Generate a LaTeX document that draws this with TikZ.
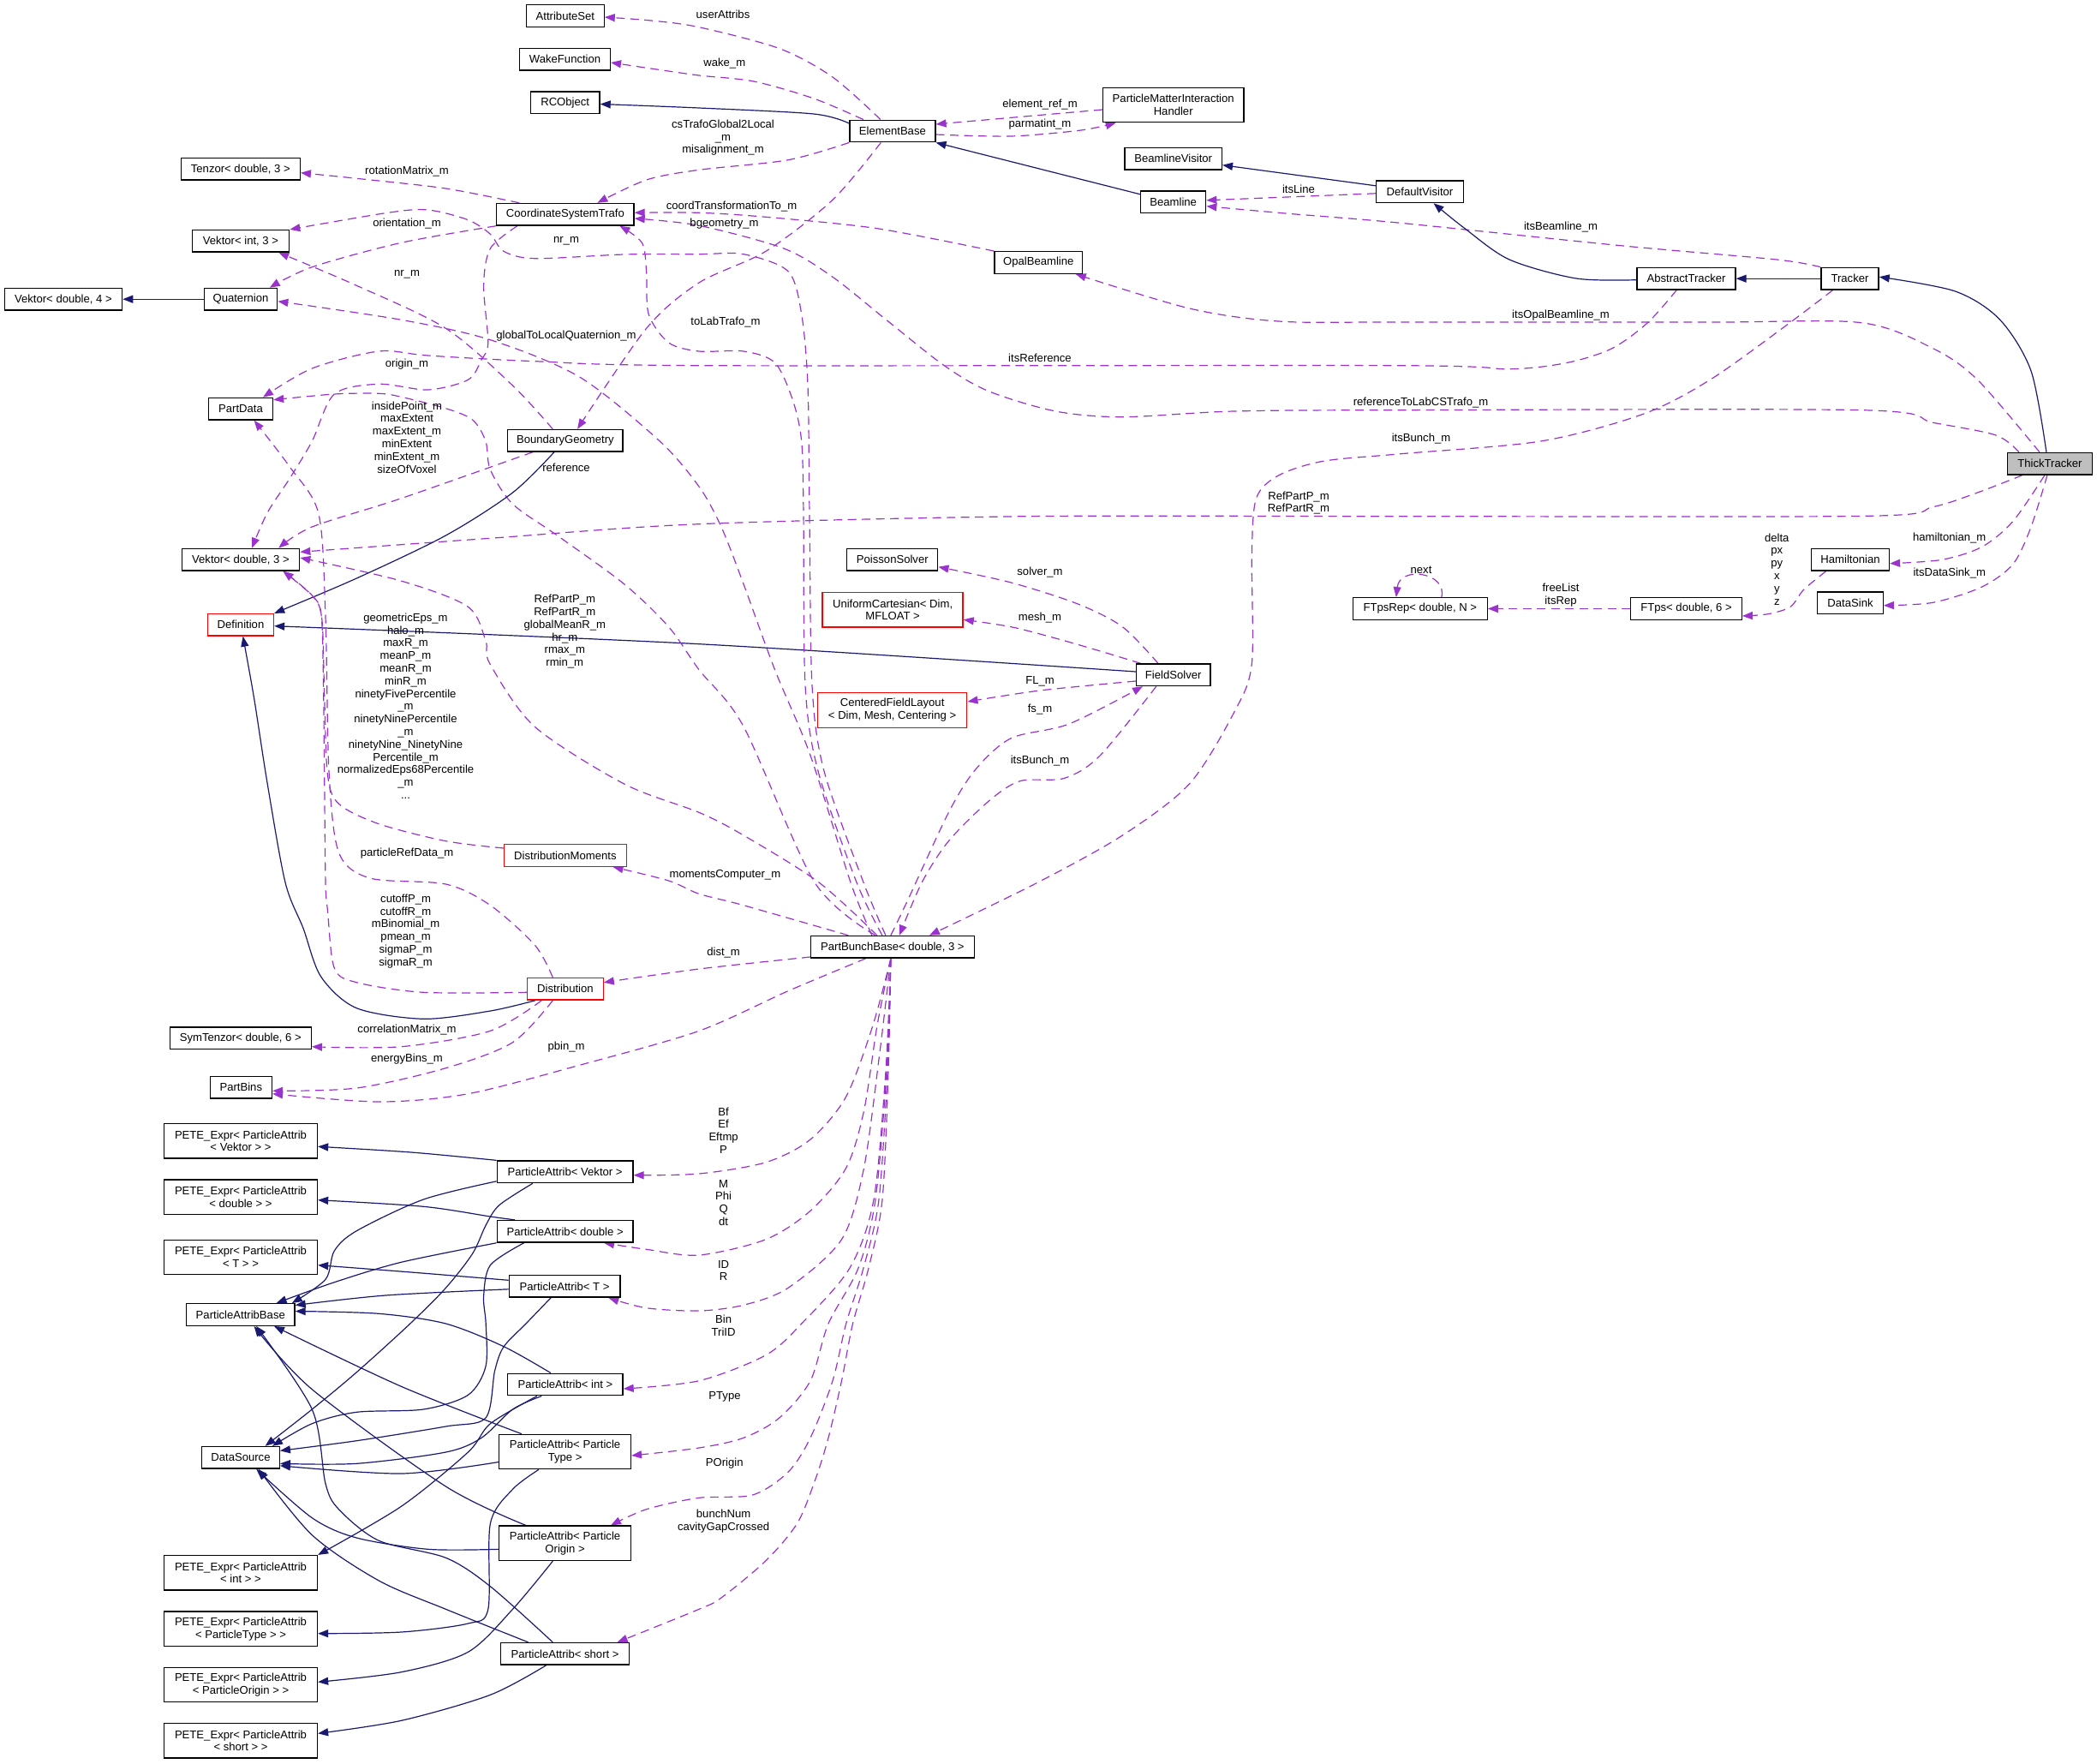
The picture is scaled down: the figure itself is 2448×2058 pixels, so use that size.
\documentclass[tikz,border=0pt]{standalone}
\usepackage{fontspec}
\setmainfont{Liberation Sans}
\usetikzlibrary{arrows.meta}
\pgfdeclarelayer{bg}
\pgfsetlayers{bg,main}
\definecolor{usecol}{HTML}{9A32CD}
\definecolor{inhcol}{HTML}{191970}
\definecolor{redb}{HTML}{FF0000}
\definecolor{grayf}{HTML}{BFBFBF}
\newcommand\lblfont{\fontsize{13.1}{14.8}\selectfont}
\begin{document}
\begin{tikzpicture}[x=1pt,y=-1pt,
  cls/.style={draw=black, line width=1.3pt, fill=white, inner sep=0pt, align=center, font=\lblfont, minimum height=25.6pt},
  cls2/.style={cls, minimum height=40.4pt},
  redcls/.style={draw=redb},
  lab/.style={inner sep=0pt, align=center, font=\lblfont},
  use/.style={draw=usecol, line width=1.2pt, dash pattern=on 10pt off 6.5pt, -{Triangle[length=12pt,width=9pt]}},
  inh/.style={draw=inhcol, line width=1.2pt, -{Triangle[length=12pt,width=9pt]}},
  sm/.style={smooth, tension=0.5}]
\useasboundingbox (0,0) rectangle (2448,2058);

% ---------- classes ----------
\node[cls, minimum width=90.5pt] (attrset) at (659.9,18.5) {AttributeSet};
\node[cls, minimum width=105.6pt] (wake) at (659.6,69.3) {WakeFunction};
\node[cls, minimum width=80.7pt] (rcobj) at (659.7,119.8) {RCObject};
\node[cls, minimum width=100pt] (elembase) at (1041.9,153) {ElementBase};
\node[cls2, minimum width=164.4pt] (pmih) at (1369.7,122.5) {ParticleMatterInteraction\\Handler};
\node[cls, minimum width=113.4pt] (blvisitor) at (1369.7,185.2) {BeamlineVisitor};
\node[cls, minimum width=76pt] (beamline) at (1369.7,235.8) {Beamline};
\node[cls, minimum width=102pt] (defvisitor) at (1657.5,223.8) {DefaultVisitor};
\node[cls, minimum width=102.5pt] (opalbl) at (1212.3,306.5) {OpalBeamline};
\node[cls, minimum width=115pt] (abstracker) at (1968.5,325.2) {AbstractTracker};
\node[cls, minimum width=67.1pt] (tracker) at (2159.5,325.2) {Tracker};
\node[cls, minimum width=98.9pt, fill=grayf] (thick) at (2392.9,541.2) {ThickTracker};
\node[cls, minimum width=139pt] (tenzor) at (280.8,197.2) {Tenzor< double, 3 >};
\node[cls, minimum width=160.3pt] (cst) at (659.9,250.3) {CoordinateSystemTrafo};
\node[cls, minimum width=113.4pt] (vint) at (281,281.3) {Vektor< int, 3 >};
\node[cls, minimum width=137.4pt] (vd4) at (73.9,349.2) {Vektor< double, 4 >};
\node[cls, minimum width=85.4pt] (quat) at (281,349.2) {Quaternion};
\node[cls, minimum width=75pt] (partdata) at (281,477.2) {PartData};
\node[cls, minimum width=134.3pt] (bgeom) at (659.9,514.3) {BoundaryGeometry};
\node[cls, minimum width=137.4pt] (vd3) at (281,653.2) {Vektor< double, 3 >};
\node[cls, redcls, minimum width=77pt] (defn) at (281,729.3) {Definition};
\node[cls, minimum width=106pt] (poisson) at (1041.8,653.3) {PoissonSolver};
\node[cls2, redcls, minimum width=164pt] (unifcart) at (1042.1,711.8) {UniformCartesian< Dim,\\MFLOAT >};
\node[cls, minimum width=86.4pt] (fieldsolver) at (1369.7,787.8) {FieldSolver};
\node[cls2, redcls, minimum width=174.4pt] (cfl) at (1041.6,829) {CenteredFieldLayout\\< Dim, Mesh, Centering >};
\node[cls, minimum width=156.7pt] (ftpsrep) at (1657.8,710.5) {FTpsRep< double, N >};
\node[cls, minimum width=129.5pt] (ftps) at (1968.5,710.5) {FTps< double, 6 >};
\node[cls, minimum width=91pt] (hamil) at (2160,653.3) {Hamiltonian};
\node[cls, minimum width=76.5pt] (datasink) at (2160,703.8) {DataSink};
\node[cls, redcls, minimum width=142.6pt] (dmoments) at (659.9,998.5) {DistributionMoments};
\node[cls, minimum width=190.5pt] (pbb) at (1041.9,1105.2) {PartBunchBase< double, 3 >};
\node[cls, redcls, minimum width=88.5pt] (dist) at (659.9,1154.3) {Distribution};
\node[cls, minimum width=165pt] (symt) at (280.8,1211.8) {SymTenzor< double, 6 >};
\node[cls, minimum width=72.3pt] (partbins) at (281.3,1269.3) {PartBins};
\node[cls2, minimum width=179pt] (peteV) at (281,1331.8) {PETE\_Expr< ParticleAttrib\\< Vektor > >};
\node[cls, minimum width=158.7pt] (paV) at (659.6,1367.8) {ParticleAttrib< Vektor >};
\node[cls2, minimum width=179pt] (peteD) at (281,1397.2) {PETE\_Expr< ParticleAttrib\\< double > >};
\node[cls, minimum width=158.7pt] (paD) at (659.6,1437.3) {ParticleAttrib< double >};
\node[cls2, minimum width=179pt] (peteT) at (281,1467.5) {PETE\_Expr< ParticleAttrib\\< T > >};
\node[cls, minimum width=129.6pt] (paT) at (659.1,1501.3) {ParticleAttrib< T >};
\node[cls, minimum width=126.5pt] (pab) at (280.8,1534.5) {ParticleAttribBase};
\node[cls, minimum width=134.3pt] (paI) at (659.9,1616) {ParticleAttrib< int >};
\node[cls, minimum width=90.6pt] (datasrc) at (281,1701.3) {DataSource};
\node[cls2, minimum width=153.6pt] (paPT) at (659.6,1694.5) {ParticleAttrib< Particle\\Type >};
\node[cls2, minimum width=153.6pt] (paPO) at (659.6,1801.3) {ParticleAttrib< Particle\\Origin >};
\node[cls2, minimum width=179pt] (peteI) at (281,1835.8) {PETE\_Expr< ParticleAttrib\\< int > >};
\node[cls2, minimum width=179pt] (petePT) at (281,1901.2) {PETE\_Expr< ParticleAttrib\\< ParticleType > >};
\node[cls, minimum width=150.4pt] (paS) at (659.6,1930.3) {ParticleAttrib< short >};
\node[cls2, minimum width=179pt] (petePO) at (281,1966.5) {PETE\_Expr< ParticleAttrib\\< ParticleOrigin > >};
\node[cls2, minimum width=179pt] (peteS) at (281,2031.8) {PETE\_Expr< ParticleAttrib\\< short > >};

% ---------- labels ----------
\node[lab] (l1) at (844,16.5) {userAttribs};
\node[lab] (l2) at (845.8,74) {wake\_m};
\node[lab] (l3) at (844,160.8) {csTrafoGlobal2Local\\\_m\\misalignment\_m};
\node[lab] (l4) at (1214,121.7) {element\_ref\_m};
\node[lab] (l5) at (1214,145) {parmatint\_m};
\node[lab] (l6) at (1516,220.7) {itsLine};
\node[lab] (l7) at (1822,265) {itsBeamline\_m};
\node[lab] (l8) at (475,200) {rotationMatrix\_m};
\node[lab] (l9) at (475,260.7) {orientation\_m};
\node[lab] (l10) at (854,240.7) {coordTransformationTo\_m};
\node[lab] (l11) at (845.5,261) {bgeometry\_m};
\node[lab] (l12) at (661,281.7) {nr\_m};
\node[lab] (l13) at (475,320) {nr\_m};
\node[lab] (l14) at (847,375.7) {toLabTrafo\_m};
\node[lab] (l15) at (1822,367.7) {itsOpalBeamline\_m};
\node[lab] (l16) at (661,391.7) {globalToLocalQuaternion\_m};
\node[lab] (l17) at (1214,417.7) {itsReference};
\node[lab] (l18) at (475,425) {origin\_m};
\node[lab] (l19) at (475,510.5) {insidePoint\_m\\maxExtent\\maxExtent\_m\\minExtent\\minExtent\_m\\sizeOfVoxel};
\node[lab] (l20) at (1658.5,470) {referenceToLabCSTrafo\_m};
\node[lab] (l21) at (1659,512) {itsBunch\_m};
\node[lab] (l22) at (661,545.7) {reference};
\node[lab] (l23) at (1516,587) {RefPartP\_m\\RefPartR\_m};
\node[lab] (l24) at (659.3,737.3) {RefPartP\_m\\RefPartR\_m\\globalMeanR\_m\\hr\_m\\rmax\_m\\rmin\_m};
\node[lab] (l25) at (473.5,824.2) {geometricEps\_m\\halo\_m\\maxR\_m\\meanP\_m\\meanR\_m\\minR\_m\\ninetyFivePercentile\\\_m\\ninetyNinePercentile\\\_m\\ninetyNine\_NinetyNine\\Percentile\_m\\normalizedEps68Percentile\\\_m\\...};
\node[lab] (l26) at (2074.3,664.3) {delta\\px\\py\\x\\y\\z};
\node[lab] (l27) at (2275.7,627.7) {hamiltonian\_m};
\node[lab] (l28) at (2275.7,669.3) {itsDataSink\_m};
\node[lab] (l29) at (1659,665) {next};
\node[lab] (l30) at (1822,694.5) {freeList\\itsRep};
\node[lab] (l31) at (1214,668.3) {solver\_m};
\node[lab] (l32) at (1214,720.7) {mesh\_m};
\node[lab] (l33) at (1214,795.7) {FL\_m};
\node[lab] (l34) at (1214,827.7) {fs\_m};
\node[lab] (l35) at (1214,888.3) {itsBunch\_m};
\node[lab] (l36) at (475,996) {particleRefData\_m};
\node[lab] (l37) at (846.4,1021) {momentsComputer\_m};
\node[lab] (l38) at (473.6,1087) {cutoffP\_m\\cutoffR\_m\\mBinomial\_m\\pmean\_m\\sigmaP\_m\\sigmaR\_m};
\node[lab] (l39) at (844.6,1111.7) {dist\_m};
\node[lab] (l40) at (475,1201.7) {correlationMatrix\_m};
\node[lab] (l41) at (661,1222.3) {pbin\_m};
\node[lab] (l42) at (475,1235.7) {energyBins\_m};
\node[lab] (l43) at (844.6,1319.5) {Bf\\Ef\\Eftmp\\P};
\node[lab] (l44) at (844.6,1403.8) {M\\Phi\\Q\\dt};
\node[lab] (l45) at (844.6,1483) {ID\\R};
\node[lab] (l46) at (844.6,1547.5) {Bin\\TriID};
\node[lab] (l47) at (846,1630) {PType};
\node[lab] (l48) at (845.7,1708.3) {POrigin};
\node[lab] (l49) at (844.6,1775.8) {bunchNum\\cavityGapCrossed};

% ---------- connectors ----------
\begin{pgfonlayer}{bg}
\fill[white] (0,0) rectangle (2448,2058);
% top region
\draw[use] plot[sm] coordinates {([xshift=-14pt]elembase.north) (972,90) (910,56.7) (816,31.7) (760,24) ([yshift=-1.5pt]attrset.east)};
\draw[use] plot[sm] coordinates {([xshift=-34pt]elembase.north) (950,115) (880,95) (816,88) (760,80) ([yshift=-3.7pt]wake.east)};
\draw[inh] plot[sm] coordinates {([yshift=9pt]elembase.west) (950,133) (816,126) ([yshift=-1.7pt]rcobj.east)};
\draw[use] ([yshift=-5.5pt]pmih.west) -- ([yshift=8pt]elembase.east);
\draw[use] plot[sm] coordinates {([yshift=-4pt]elembase.east) (1180,159) (1262,152) ([xshift=-67pt]pmih.south)};
\draw[inh] ([yshift=9pt]beamline.west) -- (elembase.south east);
\draw[inh] ([yshift=7pt]defvisitor.west) -- ([yshift=-7.5pt]blvisitor.east);
\draw[use] ([yshift=-2pt]defvisitor.west) -- ([yshift=2pt]beamline.east);
\draw[use] plot[sm] coordinates {(tracker.north west) (2074,303) (1892,286.7) (1632,260) (1500,249) ([yshift=-4.9pt]beamline.east)};
\draw[inh] plot[sm] coordinates {([yshift=-1.5pt]abstracker.west) (1840,325) (1762,303) (1710,266.7) ([xshift=16pt]defvisitor.south)};
\draw[inh] (tracker.west) -- (abstracker.east);
\draw[inh] plot[sm] coordinates {([xshift=-4pt]thick.north) (2371,433) (2334.5,373) (2282.5,340) ([yshift=2pt]tracker.east)};
\draw[use] plot[sm] coordinates {([xshift=-12pt]thick.north) (2308.5,443.3) (2256.5,406.7) (2173,376.7) (2000,376) (1632,376) (1492.5,375) (1388.5,360) ([xshift=43.4pt]opalbl.south)};
\draw[use] plot[sm] coordinates {([xshift=-36pt]thick.north) (2330,508) (2256.5,493.3) (2173,478.7) (1632,478.7) (1440.5,480) (1310.4,486.7) (1232.3,480) (1154.3,456.7) (1102.2,426.7) (1034.6,373.3) (972,323.3) (914.9,290) (816,263.3) ([yshift=-4.7pt]cst.east)};
\draw[use] plot[sm] coordinates {([xshift=-20pt]tracker.south) (2085,380) (1996.3,443.3) (1918.2,483.3) (1798.5,515) (1632,530) (1544.6,538.3) (1492.5,555) (1466.5,581.7) (1461.3,648.3) (1461.3,775) (1440.5,831.7) (1388.4,915) (1310.4,975) (1211.5,1030) ([xshift=43pt]pbb.north)};
\draw[use] plot[sm] coordinates {([xshift=-32pt]thick.south) (2308.5,575) (2256.5,591.7) (2178.4,602.3) (1632,602.7) (1200,602.7) (816,611.7) (572,628.3) ([yshift=8.9pt]vd3.east)};
\draw[use] plot[sm] coordinates {([xshift=-6pt]thick.south) (2350,608.3) (2313.7,638.3) (2267,653.3) ([yshift=-4.4pt]hamil.east)};
\draw[use] plot[sm] coordinates {([xshift=-3pt]thick.south) (2371,615) (2350,658.3) (2313.7,685) (2256.5,703.3) ([yshift=-2.9pt]datasink.east)};
\draw[use] plot[sm] coordinates {([xshift=-28.4pt]hamil.south) (2105.6,688.3) (2090,708.3) (2064,716.7) ([yshift=-8.5pt]ftps.east)};
\draw[use] (ftps.west) -- (ftpsrep.east);
\draw[use] ([xshift=25pt]ftpsrep.north) .. controls (1690,668) and (1634,660) .. ([xshift=-28pt]ftpsrep.north);
% field solver
\draw[use] plot[sm] coordinates {([xshift=-17.7pt]fieldsolver.north) (1310.4,731.7) (1258.3,705) (1180.3,680) ([yshift=-8.4pt]poisson.east)};
\draw[use] plot[sm] coordinates {([xshift=-38pt]fieldsolver.north) (1284.4,760) (1232.3,745) (1180.3,731.7) ([yshift=-11.5pt]unifcart.east)};
\draw[inh] plot[sm] coordinates {([yshift=3.8pt]fieldsolver.west) (816,751.7) ([yshift=-1.4pt]defn.east)};
\draw[use] plot[sm] coordinates {([yshift=-7.2pt]fieldsolver.west) (1214,806) ([yshift=10pt]cfl.east)};
\draw[use] plot[sm] coordinates {([xshift=-2pt]pbb.north) (1060,1050) (1107.4,948.3) (1138.7,898.3) (1180.3,861.7) (1248,845) ([xshift=-35.7pt]fieldsolver.south)};
\draw[use] plot[sm] coordinates {([xshift=-20pt]fieldsolver.south) (1284.4,881.7) (1242.7,908.3) (1190.7,911.7) (1154.3,935) (1107.4,981.7) (1076.2,1030) ([xshift=8pt]pbb.north)};
% PartBunchBase upward
\draw[use] plot[sm] coordinates {([xshift=-51.6pt]pbb.north) (868,1056.7) (816,1043.3) (780.6,1028) ([xshift=55.6pt]dmoments.south)};
\draw[use] plot[sm] coordinates {([yshift=-11.8pt]pbb.west) (816,1131) ([yshift=7.6pt]dist.east)};
\draw[use] plot[sm] coordinates {([xshift=-31pt]pbb.south) (920,1156.7) (816,1203.3) (676.5,1243.3) (546.4,1276.7) (442.3,1286) ([yshift=-7.4pt]partbins.east)};
\draw[use] plot[sm] coordinates {([xshift=-12pt]pbb.north) (1000,1030) (955,900) (940,800) (938,600) (935.7,515) (925.3,466.7) (904.5,423.3) (868,410) (816,410) (780.6,400) (757.2,366.7) (754.6,316.7) (749.4,283.3) ([xshift=63.5pt]cst.south)};
\draw[use] plot[sm] coordinates {([xshift=-8pt]pbb.north) (1008,1030) (962,900) (948,800) (945,600) (943,450) (935.7,366.7) (920,316.7) (868,296.7) (816,296.7) (728.6,297) (624.5,301.7) (588,293.3) (572.4,273.3) (546.4,256.7) (499.6,245) (452.7,248.3) (vint.north east)};
\draw[use] plot[sm] coordinates {([xshift=-24pt]pbb.north) (993,1030) (946,881.7) (904.5,781.7) (868,681.7) (842,615) (816,568) (770.2,515) (676.5,440) (572.4,396.7) (468.4,373.3) ([yshift=-2.5pt]quat.east)};
\draw[use] plot[sm] coordinates {([xshift=-20pt]pbb.north) (951,1030) (868,848) (816,781.7) (780.6,731.7) (728.6,681.7) (650.5,625) (598.5,588.3) (572.4,548.3) (567,515) (551.6,490) (520.4,476.7) (468.4,463.3) (442.3,459.3) (390.3,460) ([yshift=10.5pt]partdata.east)};
\draw[use] plot[sm] coordinates {([xshift=-18pt]pbb.north) (956,1030) (868,975) (816,948.3) (728.6,915) (624,848) (572,775) (567,748) (546,708) (468,678) ([yshift=2.2pt]vd3.east)};
% left column, upper
\draw[use] plot[sm] coordinates {([xshift=-11.3pt]abstracker.south) (1923.4,376.7) (1881.8,406.7) (1829.8,423.3) (1762.1,430.7) (1632,426.7) (816,426.7) (624.5,421.7) (499.6,415) (442.3,410) (364.3,430) ([xshift=26pt]partdata.north)};
\draw[use] plot[sm] coordinates {([xshift=-53.6pt]cst.north) (520.4,220) (416.3,208.3) ([yshift=-4.5pt]tenzor.east)};
\draw[use] plot[sm] coordinates {(cst.south west) (468.4,283.3) (364.3,311.7) ([xshift=33.8pt]quat.north)};
\draw[use] plot[sm] coordinates {([xshift=-56pt]cst.south) (572.4,290) (564.6,333.3) (569.8,400) (562,420) (546.4,443.3) (499.6,455) (442.3,448.3) (390.3,460) (364.3,515) (338.3,558.3) (312.2,598.3) ([xshift=13pt]vd3.north)};
\draw[use] plot[sm] coordinates {(elembase.south west) (920,186.7) (816,198.3) (754.6,210) ([xshift=37.4pt]cst.north)};
\draw[use] plot[sm] coordinates {([xshift=-13.6pt]elembase.south) (972,233.3) (894,293.3) (816,330) (754.6,383.3) ([xshift=14.1pt]bgeom.north)};
\draw[use] plot[sm] coordinates {(opalbl.north west) (1024,266.7) (894,253.3) (816,248.3) ([yshift=2pt]cst.east)};
\draw[use] plot[sm] coordinates {([xshift=-14.6pt]bgeom.north) (598.5,450) (520.4,383.3) (416.3,333.3) ([xshift=44.2pt]vint.south)};
\draw[use] plot[sm] coordinates {([xshift=-38pt]bgeom.south) (468.4,581.7) (364.3,615) ([xshift=44.2pt]vd3.north)};
\draw[inh] plot[sm] coordinates {([xshift=-13pt]bgeom.south) (598.5,575) (520.4,625) (416.3,675) (defn.north east)};
\draw[inh] (quat.west) -- (vd4.east);
% distribution
\draw[use] plot[sm] coordinates {([xshift=-14.6pt]dist.south) (598.5,1216.7) (520.4,1246.7) (416.3,1270) ([yshift=-4pt]partbins.east)};
\draw[use] plot[sm] coordinates {([xshift=-27.6pt]dist.south) (572.4,1203.3) (468.4,1221.7) ([yshift=-9.9pt]symt.east)};
\draw[inh] plot[sm] coordinates {([xshift=-35pt]dist.south) (572.4,1180) (494.4,1189.3) (416.3,1176.7) (374.7,1140) (353.9,1083.3) (333,1030) (312.2,915) (296.6,815) ([xshift=2.6pt]defn.south)};
\draw[use] plot[sm] coordinates {([yshift=-4pt]dist.west) (494.4,1158.3) (416.3,1146.7) (390.3,1130) (382.5,1063.3) (380,1030) (378.8,915) (377.3,781.7) (374.7,715) (364.3,695) ([xshift=49.5pt]vd3.south)};
\draw[use] plot[sm] coordinates {([yshift=8.5pt]dmoments.west) (520.4,981.7) (442.3,961.7) (395.5,938.3) (382.5,905) (378.8,815) (375.7,721.7) (364.3,695) ([xshift=49.5pt]vd3.south)};
\draw[use] plot[sm] coordinates {([xshift=-14.6pt]dist.north) (624.5,1103.3) (572.4,1056.7) (520.4,1032) (432,1025) (395.5,995) (384,900) (380,720) (372,600) (338.3,545) ([xshift=15.6pt]partdata.south)};
% PartBunchBase downward
\draw[use] plot[sm] coordinates {([xshift=-2pt]pbb.south) (1019,1196.7) (987.7,1280) (946,1330) (894,1356.7) (816,1370) ([yshift=-3.9pt]paV.east)};
\draw[use] plot[sm] coordinates {([xshift=-2pt]pbb.south) (1024,1196.7) (1008.5,1296.7) (987.7,1363.3) (946,1413.3) (894,1446.7) (816,1465) (754.6,1458.3) ([xshift=45.4pt]paD.south)};
\draw[use] plot[sm] coordinates {([xshift=-2pt]pbb.south) (1026.8,1230) (1008.5,1363.3) (982.5,1446.7) (920,1503.3) (868,1523.3) (816,1530) (754.6,1526.7) ([xshift=51.2pt]paT.south)};
\draw[use] plot[sm] coordinates {([xshift=-2pt]pbb.south) (1034,1250) (1020,1400) (992,1480) (935.7,1545) (894,1581.7) (816,1611.7) ([yshift=-5pt]paI.east)};
\draw[use] plot[sm] coordinates {([xshift=-2pt]pbb.south) (1035,1250) (1022,1400) (1002,1480) (967,1545) (946,1611.7) (909.7,1655) (868,1678.3) (816,1690) ([yshift=-4.5pt]paPT.east)};
\draw[use] plot[sm] coordinates {([xshift=-2pt]pbb.south) (1036,1250) (1026,1400) (1008,1480) (987.7,1545) (972,1611.7) (946,1678.3) (920,1718.3) (878.4,1745) (816,1748.3) (754.6,1761.7) ([xshift=53.4pt]paPO.north)};
\draw[use] plot[sm] coordinates {([xshift=-2pt]pbb.south) (1037,1250) (1030,1400) (1014,1480) (995.5,1545) (982.5,1611.7) (967,1678.3) (951.3,1728.3) (930.5,1778.3) (894,1821.7) (842,1865) (816,1878.3) ([xshift=61pt]paS.north)};
% ParticleAttrib inheritance
\draw[inh] plot[sm] coordinates {(paV.north west) (480,1345) ([yshift=-6.5pt]peteV.east)};
\draw[inh] plot[sm] coordinates {([yshift=-11pt]paV.west) (494.4,1400) (416.3,1436.7) (390.3,1460) (380,1493.3) ([xshift=60pt]pab.north)};
\draw[inh] plot[sm] coordinates {([xshift=-37.7pt]paV.south) (582.8,1406.7) (567.2,1430) (551.6,1463.3) (520.4,1503.3) (478.8,1545) (416.3,1601.7) (364.3,1645) ([xshift=28.6pt]datasrc.north)};
\draw[inh] plot[sm] coordinates {([xshift=-58.6pt]paD.north) (572.4,1420) (494.4,1408.3) ([yshift=-3.5pt]peteD.east)};
\draw[inh] plot[sm] coordinates {(paD.south west) (468.4,1473.3) (390.3,1496.7) ([xshift=41.8pt]pab.north)};
\draw[inh] plot[sm] coordinates {([xshift=-48pt]paD.south) (572.4,1476.7) (564.6,1513.3) (567.2,1545) (567,1595) (546.4,1628.3) (494.4,1645) (416.3,1648.3) (364.3,1661.7) ([xshift=37pt]datasrc.north)};
\draw[inh] plot[sm] coordinates {([yshift=7pt]paT.west) (480,1485) ([yshift=-9.2pt]peteT.east)};
\draw[inh] plot[sm] coordinates {([yshift=-3.5pt]paT.west) (450,1512) ([yshift=11pt]pab.east)};
\draw[inh] plot[sm] coordinates {([xshift=-16pt]paT.south) (614,1545) (588,1572) (577.6,1600) (567,1655) (520.4,1665) (416.3,1681.7) ([yshift=8pt]datasrc.east)};
\draw[inh] plot[sm] coordinates {([xshift=-17pt]paI.north) (588,1571.7) (520.4,1545) (442.3,1533.3) ([yshift=4pt]pab.east)};
\draw[inh] plot[sm] coordinates {([xshift=-27.6pt]paI.south) (598.5,1645) (562,1678.3) (520.4,1695) (416.3,1708.3) ([yshift=-7pt]datasrc.east)};
\draw[inh] plot[sm] coordinates {([xshift=-33pt]paI.south) (572.4,1661.7) (546.4,1695) (468.4,1758.3) (peteI.north east)};
\draw[inh] plot[sm] coordinates {([xshift=-50.7pt]paPT.north) (468.4,1618.3) ([xshift=39.2pt]pab.south)};
\draw[inh] plot[sm] coordinates {([yshift=-12pt]paPT.west) (468.4,1720) ([yshift=-9.5pt]datasrc.east)};
\draw[inh] plot[sm] coordinates {([xshift=-30.7pt]paPT.south) (598.5,1738.3) (572.4,1778.3) (569.8,1878.3) (546.4,1895) (468.4,1905) ([yshift=-5.5pt]petePT.east)};
\draw[inh] plot[sm] coordinates {([xshift=-45.6pt]paPO.north) (520.4,1735) (364.3,1621.7) ([xshift=15.8pt]pab.south)};
\draw[inh] plot[sm] coordinates {([yshift=-7pt]paPO.west) (499.6,1808.3) (416.3,1795) (364.3,1771.7) ([xshift=18.2pt]datasrc.south)};
\draw[inh] plot[sm] coordinates {([xshift=-14.3pt]paPO.south) (598.5,1878.3) (546.4,1928.3) (468.4,1951.7) ([yshift=3.2pt]petePO.east)};
\draw[inh] plot[sm] coordinates {([xshift=-14.3pt]paS.north) (572.4,1851.7) (520.4,1818.3) (442.3,1798.3) (395.5,1761.7) (380,1731.7) (364.3,1645) ([xshift=18.4pt]pab.south)};
\draw[inh] plot[sm] coordinates {([xshift=-43pt]paS.north) (520.4,1878.3) (442.3,1845) (364.3,1791.7) ([xshift=20.8pt]datasrc.south)};
\draw[inh] plot[sm] coordinates {([xshift=-22pt]paS.south) (572.4,1978.3) (468.4,2008.3) ([yshift=8.5pt]peteS.east)};
\end{pgfonlayer}
\end{tikzpicture}
\end{document}
